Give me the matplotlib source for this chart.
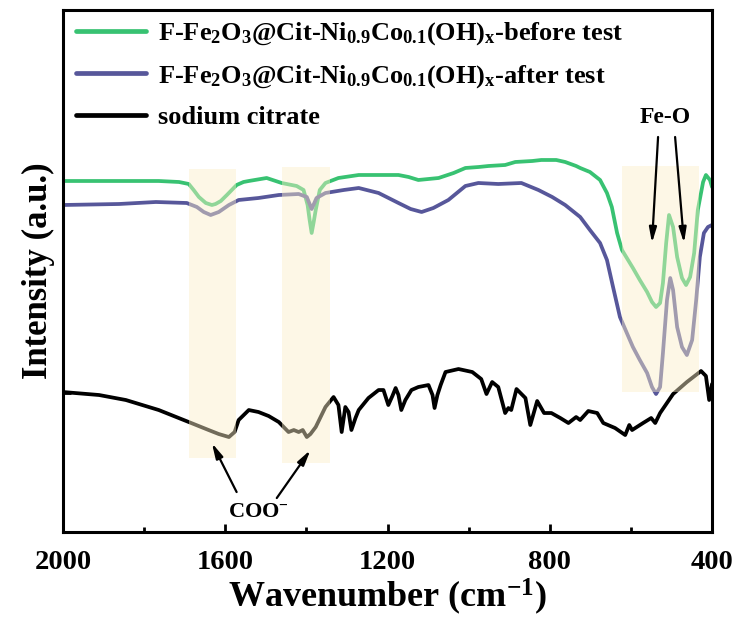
import matplotlib
matplotlib.use("Agg")
import matplotlib.pyplot as plt
from matplotlib.patches import Rectangle
from matplotlib.ticker import FixedLocator, NullFormatter

plt.rcParams['font.family'] = ['Liberation Serif', 'DejaVu Serif']
plt.rcParams['font.weight'] = 'bold'
plt.rcParams['mathtext.fontset'] = 'custom'
plt.rcParams['mathtext.rm'] = 'Liberation Serif:bold'
plt.rcParams['mathtext.it'] = 'Liberation Serif:bold'
plt.rcParams['mathtext.bf'] = 'Liberation Serif:bold'

# FTIR spectra: wavenumber (cm-1) and offset intensity (a.u.)
before_wn = [2000, 1862, 1764, 1714, 1690, 1678, 1665, 1648, 1633, 1624, 1611, 1596,
             1572, 1555, 1542, 1498, 1461, 1424, 1407, 1397, 1392, 1387, 1382, 1377,
             1367, 1353, 1321, 1271, 1222, 1173, 1148, 1124, 1099, 1074, 1037, 1008,
             975, 951, 910, 885, 843, 821, 784, 762, 735, 725, 701, 676, 659, 647,
             634, 622, 610, 595, 578, 560, 548, 538, 528, 521, 513, 506, 496, 486,
             474, 464, 454, 444, 435, 422, 415, 405, 400]
before_int = [2.12, 2.12, 2.12, 2.11, 2.09, 2.03, 1.96, 1.90, 1.88, 1.89, 1.92, 1.98,
              2.08, 2.11, 2.12, 2.15, 2.10, 2.07, 2.03, 1.88, 1.73, 1.60, 1.71, 1.83,
              2.03, 2.10, 2.15, 2.18, 2.18, 2.18, 2.16, 2.13, 2.14, 2.15, 2.20, 2.25,
              2.26, 2.27, 2.28, 2.31, 2.32, 2.33, 2.33, 2.31, 2.27, 2.25, 2.21, 2.13,
              2.00, 1.86, 1.60, 1.43, 1.35, 1.25, 1.13, 1.01, 0.91, 0.86, 0.90, 1.10,
              1.50, 1.78, 1.66, 1.36, 1.15, 1.08, 1.16, 1.40, 1.83, 2.11, 2.18, 2.13,
              2.06]

after_wn = [2000, 1862, 1771, 1695, 1670, 1653, 1636, 1616, 1591, 1567, 1518, 1468,
            1419, 1399, 1387, 1375, 1353, 1308, 1271, 1222, 1173, 1143, 1116, 1087,
            1050, 1008, 976, 927, 870, 828, 794, 762, 725, 701, 676, 659, 644, 627,
            610, 595, 578, 560, 548, 538, 528, 521, 511, 503, 496, 486, 474, 462,
            449, 439, 430, 420, 410, 400]
after_int = [1.88, 1.89, 1.91, 1.90, 1.86, 1.81, 1.78, 1.81, 1.88, 1.93, 1.95, 1.98,
             1.99, 1.96, 1.84, 1.95, 2.00, 2.03, 2.05, 2.00, 1.90, 1.84, 1.81, 1.85,
             1.93, 2.07, 2.10, 2.09, 2.10, 2.03, 1.96, 1.88, 1.76, 1.63, 1.50, 1.33,
             1.06, 0.76, 0.60, 0.46, 0.33, 0.20, 0.06, -0.01, 0.06, 0.40, 0.93, 1.15,
             1.03, 0.66, 0.46, 0.38, 0.53, 0.93, 1.36, 1.60, 1.66, 1.68]

citrate_wn = [2000, 1911, 1845, 1764, 1690, 1641, 1616, 1591, 1577, 1567, 1542, 1518,
              1493, 1468, 1444, 1431, 1419, 1409, 1399, 1390, 1377, 1353, 1333, 1321,
              1313, 1304, 1296, 1289, 1279, 1271, 1247, 1222, 1210, 1198, 1188, 1180,
              1173, 1166, 1156, 1141, 1124, 1099, 1089, 1084, 1077, 1069, 1057, 1025,
              991, 969, 956, 942, 927, 910, 902, 895, 882, 860, 848, 831, 814, 796,
              774, 754, 735, 725, 705, 683, 668, 639, 614, 604, 597, 570, 550, 540,
              528, 496, 462, 427, 415, 407, 400]
citrate_int = [0.01, -0.02, -0.07, -0.17, -0.29, -0.37, -0.41, -0.44, -0.39, -0.27,
               -0.17, -0.19, -0.23, -0.29, -0.39, -0.37, -0.39, -0.37, -0.44, -0.41,
               -0.34, -0.14, -0.04, -0.12, -0.39, -0.14, -0.19, -0.37, -0.25, -0.17,
               -0.05, 0.03, 0.03, -0.12, -0.03, 0.05, -0.02, -0.17, -0.07, 0.03, 0.06,
               0.08, -0.02, -0.15, -0.02, 0.08, 0.21, 0.24, 0.21, 0.14, -0.01, 0.11,
               0.06, -0.20, -0.15, -0.17, 0.04, -0.05, -0.32, -0.08, -0.20, -0.20,
               -0.25, -0.30, -0.24, -0.27, -0.18, -0.20, -0.30, -0.35, -0.42, -0.32,
               -0.37, -0.30, -0.25, -0.30, -0.20, -0.01, 0.11, 0.22, 0.17, -0.07, 0.09]

labels = ['F-Fe$_2$O$_3$@Cit-Ni$_{0.9}$Co$_{0.1}$(OH)$_\\mathrm{x}$-before test',
          'F-Fe$_2$O$_3$@Cit-Ni$_{0.9}$Co$_{0.1}$(OH)$_\\mathrm{x}$-after test',
          'sodium citrate']
colors = ['#38c272', '#57579a', '#000000']

# highlighted bands: (wn_high, wn_low, int_bottom, int_top)
bands = [(1690, 1574, -0.65, 2.24),
         (1461, 1343, -0.70, 2.26),
         (622, 432, 0.01, 2.27)]

fig = plt.figure(figsize=(7.37, 6.23), dpi=100)
ax = fig.add_axes([0.0855, 0.146, 0.8806, 0.838])

for wn, inten, lab, c in zip([before_wn, after_wn, citrate_wn],
                             [before_int, after_int, citrate_int], labels, colors):
    ax.plot(wn, inten, color=c, lw=2.7, label=lab, zorder=2,
            solid_joinstyle='round', solid_capstyle='round')

for hi, lo, b, t in bands:
    ax.add_patch(Rectangle((lo, b), hi - lo, t - b, facecolor='#fcefc8',
                           edgecolor='none', alpha=0.45, zorder=3))

arrow_kw = dict(arrowstyle='-|>,head_length=0.9,head_width=0.22',
                color='black', lw=1.6, shrinkA=0, shrinkB=0)

ax.text(516, 2.75, 'Fe-O', ha='center', va='center', fontsize=17, fontweight='bold')
ax.annotate('', xy=(548, 1.50), xytext=(533, 2.56), arrowprops=arrow_kw, zorder=4)
ax.annotate('', xy=(469, 1.50), xytext=(491, 2.56), arrowprops=arrow_kw, zorder=4)

ax.text(1518, -1.19, 'COO$^{-}$', ha='center', va='center', fontsize=16, fontweight='bold')
ax.annotate('', xy=(1633, -0.50), xytext=(1572, -0.99), arrowprops=arrow_kw, zorder=4)
ax.annotate('', xy=(1390, -0.57), xytext=(1473, -1.05), arrowprops=arrow_kw, zorder=4)

ax.set_xlim(2000, 400)
ax.set_ylim(-1.39, 3.83)

ax.xaxis.set_major_locator(FixedLocator([2000, 1600, 1200, 800, 400]))
ax.xaxis.set_minor_locator(FixedLocator([1800, 1400, 1000, 600]))
ax.yaxis.set_major_locator(FixedLocator([0]))
ax.yaxis.set_major_formatter(NullFormatter())
ax.tick_params(axis='both', which='major', direction='in', length=6, width=2,
               labelsize=20.5, top=False, right=False)
ax.tick_params(axis='x', which='major', pad=13)
ax.tick_params(axis='y', which='major', pad=0)
ax.tick_params(axis='x', which='minor', direction='in', length=3.5, width=2,
               top=False)
for lbl in ax.get_xticklabels():
    lbl.set_fontweight('bold')
for s in ax.spines.values():
    s.set_linewidth(2.2)

ax.set_xlabel('Wavenumber (cm$^{-1}$)', fontsize=26, fontweight='bold', labelpad=1)
ax.set_ylabel('Intensity (a.u.)', fontsize=25, fontweight='bold', labelpad=6)

leg = ax.legend(loc='upper left', bbox_to_anchor=(0.02, 0.98), frameon=False,
                fontsize=19, handlelength=2.65, handletextpad=0.45,
                labelspacing=0.6, borderpad=0, borderaxespad=0)
for line in leg.get_lines():
    line.set_linewidth(3.4)

fig.savefig('out.png', dpi=100)
